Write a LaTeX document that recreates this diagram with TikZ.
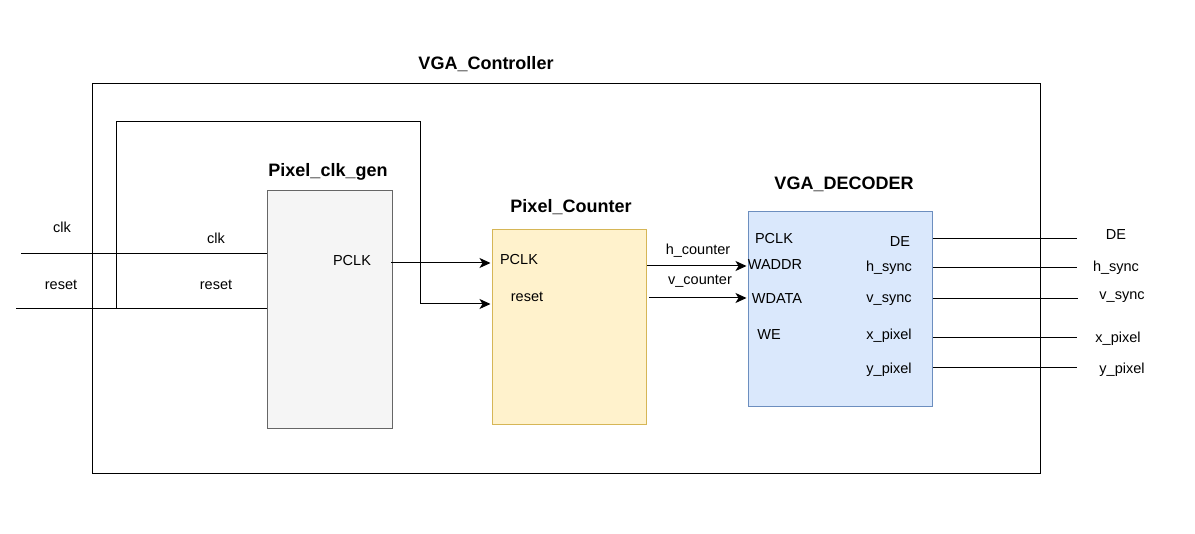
\documentclass[tikz,border=0pt]{standalone}
\usepackage{fontspec}
\setmainfont{Liberation Sans}
\usetikzlibrary{arrows.meta}
\definecolor{gfill}{HTML}{F5F5F5}
\definecolor{gline}{HTML}{666666}
\definecolor{yfill}{HTML}{FFF2CC}
\definecolor{yline}{HTML}{D6B656}
\definecolor{bfill}{HTML}{DAE8FC}
\definecolor{bline}{HTML}{6C8EBF}
\tikzset{
  wire/.style={line width=1pt, draw=black},
  arr/.style={wire, -{Stealth[length=11pt,width=10pt,inset=3pt]}, shorten >=1.5pt},
  lbl/.style={font=\fontsize{14.5}{16}\selectfont, inner sep=0pt},
  ttl/.style={font=\fontsize{18}{20}\selectfont\bfseries, inner sep=0pt},
  blk/.style={line width=1.2pt, inner sep=0pt, anchor=north west},
}
\begin{document}
\begin{tikzpicture}[x=1pt,y=-1pt]
\useasboundingbox (0,0) rectangle (1195,534);
% outer box
\node[blk, draw=black, minimum width=948pt, minimum height=390pt] (ctrl) at (92,83) {};
\node[ttl] (ctrlt) at (486,64) {VGA\_Controller};
% blocks
\node[blk, draw=gline, fill=gfill, minimum width=125pt, minimum height=238pt] (pcg) at (267,190) {};
\node[ttl] (pcgt) at (328,172) {Pixel\_clk\_gen};
\node[blk, draw=yline, fill=yfill, minimum width=154pt, minimum height=195pt] (pc) at (492,229) {};
\node[ttl] (pct) at (571,207) {Pixel\_Counter};
\node[blk, draw=bline, fill=bfill, minimum width=184pt, minimum height=195pt] (dec) at (748,211) {};
\node[ttl] (dect) at (844,184) {VGA\_DECODER};
% inputs
\coordinate (clkin) at (21,254);
\coordinate (rstin) at (16,309);
\draw[wire] (clkin) -- (clkin -| pcg.west);
\draw[wire] (rstin) -- (rstin -| pcg.west);
\node[lbl] (clkl) at (62,227) {clk};
\node[lbl] (clkl2) at (216,238) {clk};
\node[lbl] (rstl) at (61,285) {reset};
\node[lbl] (rstl2) at (216,285) {reset};
% pixel_clk_gen port
\node[lbl] (pcgclk) at (352,261) {PCLK};
\coordinate (pclkout) at (391,263);
\draw[arr] (pclkout) -- (pclkout -| pc.west);
% feedback reset loop
\coordinate (fb0) at (116,309);
\coordinate (fb1) at (116,122);
\coordinate (fb2) at (420,122);
\coordinate (fb3) at (420,304);
\draw[arr] (fb0) -- (fb1) -- (fb2) -- (fb3) -- (fb3 -| pc.west);
% pixel counter ports
\node[lbl] (pcclk) at (519,260) {PCLK};
\node[lbl] (pcrst) at (527,297) {reset};
\coordinate (hc) at (647,266);
\coordinate (vc) at (649,298);
\draw[arr] (hc) -- (hc -| dec.west);
\draw[arr] (vc) -- (vc -| dec.west);
\node[lbl] (hcl) at (698,251) {h\_counter};
\node[lbl] (vcl) at (700,281) {v\_counter};
% decoder ports
\node[lbl] (dpclk) at (774,239) {PCLK};
\node[lbl] (dwaddr) at (775,265) {WADDR};
\node[lbl] (dwdata) at (777,299) {WDATA};
\node[lbl] (dwe) at (769,335) {WE};
\node[lbl] (dde) at (900,242) {DE};
\node[lbl] (dhs) at (889,268) {h\_sync};
\node[lbl] (dvs) at (889,300) {v\_sync};
\node[lbl] (dxp) at (889,336) {x\_pixel};
\node[lbl] (dyp) at (889,370) {y\_pixel};
% outputs
\coordinate (oDE) at (1077,239);
\coordinate (oHS) at (1077,268);
\coordinate (oVS) at (1078,299);
\coordinate (oXP) at (1077,338);
\coordinate (oYP) at (1077,368);
\draw[wire] (oDE -| dec.east) -- (oDE);
\draw[wire] (oHS -| dec.east) -- (oHS);
\draw[wire] (oVS -| dec.east) -- (oVS);
\draw[wire] (oXP -| dec.east) -- (oXP);
\draw[wire] (oYP -| dec.east) -- (oYP);
\node[lbl] (lDE) at (1116,235) {DE};
\node[lbl] (lHS) at (1116,268) {h\_sync};
\node[lbl] (lVS) at (1122,297) {v\_sync};
\node[lbl] (lXP) at (1118,339) {x\_pixel};
\node[lbl] (lYP) at (1122,370) {y\_pixel};
\end{tikzpicture}
\end{document}
